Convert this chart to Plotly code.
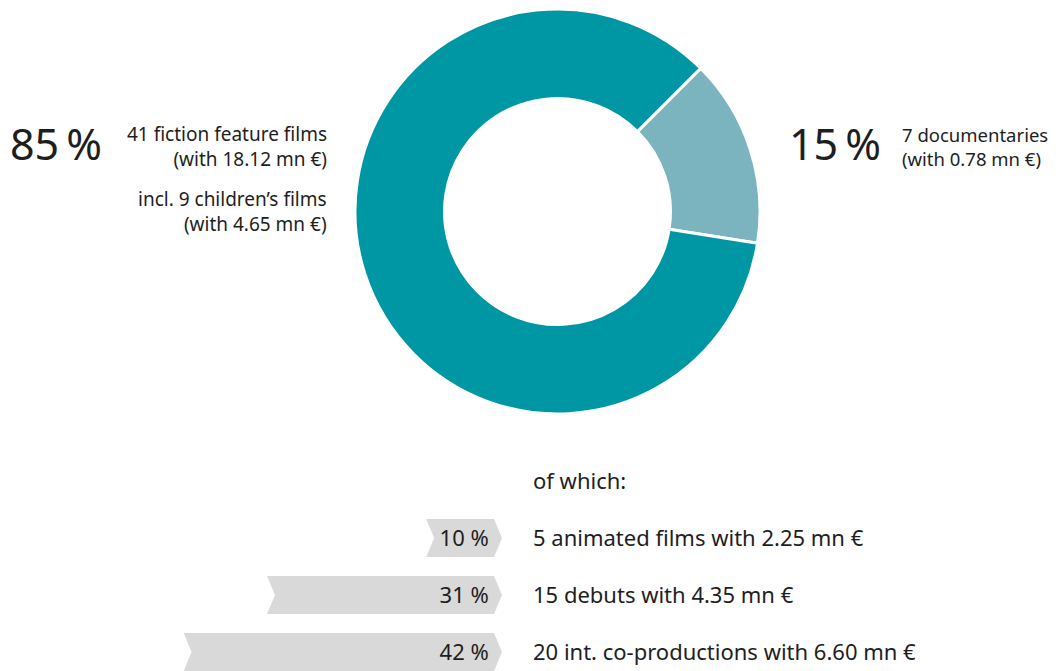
import plotly.graph_objects as go

# donut: share of funded films by genre
genres = ["7 documentaries", "41 fiction feature films"]
genre_share = [15, 85]
genre_colors = ["#7BB4BE", "#0097A5"]

# chevrons: "of which" breakdown
sub_labels = ["5 animated films with 2.25 mn €",
              "15 debuts with 4.35 mn €",
              "20 int. co-productions with 6.60 mn €"]
sub_share = [10, 31, 42]

FONT = "Noto Sans"
TXT = "#1e1e1e"
GREY = "#D9D9D9"
W, H = 1056, 671

fig = go.Figure()

fig.add_trace(go.Pie(
    labels=genres, values=genre_share, sort=False,
    direction="clockwise", rotation=45, hole=0.558,
    marker=dict(colors=genre_colors, line=dict(color="white", width=3)),
    textinfo="none", hoverinfo="label+percent",
    domain=dict(x=[347 / W, 752 / W], y=[1 - 406 / H, 1 - 1 / H]),
))

# chevron shapes built from the values in data units (x axis is reversed)
tip = 1.05   # point / notch length, in percent units
h = 0.333    # half bar height, in row units
for i, v in enumerate(sub_share):
    xs = [v, tip, 0, tip, v, v - tip, v]
    ys = [i - h, i - h, i, i + h, i + h, i, i - h]
    fig.add_trace(go.Scatter(
        x=xs, y=ys, mode="lines", fill="toself", fillcolor=GREY,
        line=dict(width=0, color=GREY), hoverinfo="skip", showlegend=False,
    ))

fig.add_trace(go.Scatter(
    x=[1.75] * len(sub_share), y=[i + 0.05 for i in range(len(sub_share))],
    mode="text",
    text=[f"{v} %" for v in sub_share], textposition="middle left",
    textfont=dict(family=FONT, size=22, color=TXT),
    hoverinfo="skip", showlegend=False,
))

fig.update_layout(
    width=W, height=H,
    margin=dict(l=0, r=0, t=0, b=0),
    paper_bgcolor="white", plot_bgcolor="white",
    showlegend=False,
    font=dict(family=FONT, color=TXT),
    xaxis=dict(domain=[0, 494 / W], range=[494 / 7.58, 0],
               visible=False, fixedrange=True),
    yaxis=dict(domain=[0, 231 / H], range=[2.474, -1.579],
               side="right", showgrid=False, zeroline=False, showline=False,
               ticks="", tickvals=[-1, 0, 1, 2],
               ticktext=["of which:"] + sub_labels,
               ticklabelstandoff=30, fixedrange=True,
               tickfont=dict(family=FONT, size=22, color=TXT)),
)

big = dict(family=FONT, size=43, color=TXT)
small = dict(family=FONT, size=19, color=TXT)
small_r = dict(family=FONT, size=18.5, color=TXT)


def note(x, y, text, xanchor, font, align="left"):
    fig.add_annotation(x=x / W, y=1 - y / H, xref="paper", yref="paper",
                       text=text, showarrow=False, xanchor=xanchor,
                       yanchor="middle", align=align, font=font)


note(0, 135, "85\u2009%", "left", big)
note(321, 138, "41 fiction feature films<br>(with 18.12 mn €)", "right", small, "right")
note(321, 203, "incl. 9 children’s films<br>(with 4.65 mn €)", "right", small, "right")
note(779, 135, "15\u2009%", "left", big)
note(892, 138, "7 documentaries<br>(with 0.78 mn €)", "left", small_r)

fig.write_html("out.html")
